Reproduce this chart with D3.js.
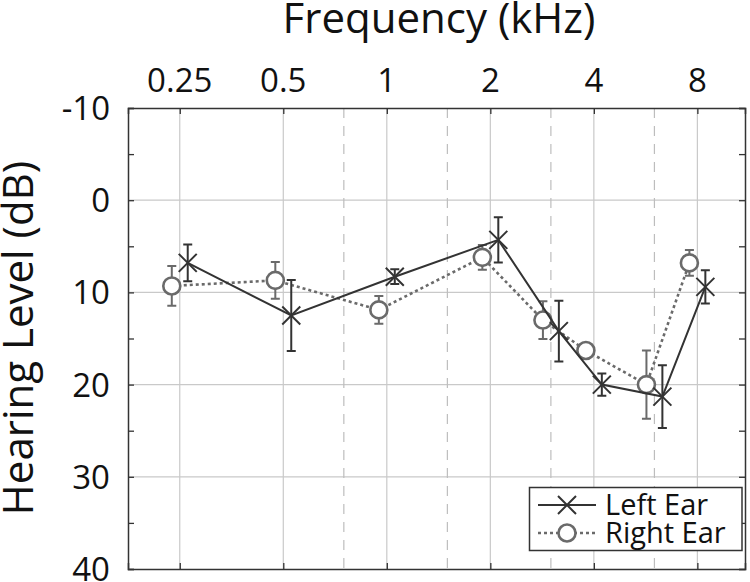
<!DOCTYPE html>
<html><head><meta charset="utf-8">
<script src="https://cdn.jsdelivr.net/npm/d3@7"></script>
<style>body{margin:0;background:#fff}svg{display:block}text{font-family:"Open Sans",sans-serif;fill:#111}</style>
</head><body>
<svg id="c" width="750" height="582"></svg>
<script>
// ---- data ----
const majorFreqs = [0.25, 0.5, 1, 2, 4, 8];
const majorLabels = ["0.25", "0.5", "1", "2", "4", "8"];
const interFreqs = [0.75, 1.5, 3, 6];
const yTicks = [-10, 0, 10, 20, 30, 40];
const yMinorTicks = [-10, -5, 0, 5, 10, 15, 20, 25, 30, 35, 40];
const yGrid = [0, 10, 20, 30];
const testFreqs = [0.25, 0.5, 1, 2, 3, 4, 6, 8];
const leftEar = [6.8, 12.5, 8.3, 4.3, 14.2, 20.0, 21.3, 9.4];
const leftErr = [2.0, 3.85, 0.8, 2.45, 3.3, 1.2, 3.4, 1.8];
const rightEar = [9.3, 8.7, 11.9, 6.2, 13.0, 16.3, 20.0, 6.8];
const rightErr = [2.15, 2.0, 1.5, 1.35, 2.05, 0.4, 3.7, 1.4];
const seriesNames = ["Left Ear", "Right Ear"];

// ---- layout ----
const L = 128, R = 745, T = 108, B = 569;
const svg = d3.select("#c");
const x = d3.scaleLog().base(2).domain([0.25 / Math.SQRT2, 8 * Math.pow(2, 0.46)]).range([L, R]);
const y = d3.scaleLinear().domain([-10, 40]).range([T, B]);
const shift = Math.pow(2, 0.077);
const cLeft = "#333", cRight = "#6a6a6a";

// grid
const g = svg.append("g");
g.selectAll(".gy").data(yGrid).join("line")
  .attr("x1", L).attr("x2", R).attr("y1", d => y(d)).attr("y2", d => y(d))
  .attr("stroke", "#c9c9c9").attr("stroke-width", 1.2);
g.selectAll(".gx").data(majorFreqs).join("line")
  .attr("x1", d => x(d)).attr("x2", d => x(d)).attr("y1", T).attr("y2", B)
  .attr("stroke", "#c9c9c9").attr("stroke-width", 1.2);
g.selectAll(".gd").data(interFreqs).join("line")
  .attr("x1", d => x(d)).attr("x2", d => x(d)).attr("y1", T).attr("y2", B)
  .attr("stroke", "#bdbdbd").attr("stroke-width", 1.2).attr("stroke-dasharray", "10,8");

// axes
const axL = d3.axisLeft(y).tickValues(yMinorTicks).tickSize(-6).tickFormat("");
const axR = d3.axisRight(y).tickValues(yMinorTicks).tickSize(-6).tickFormat("");
const axT = d3.axisTop(x).tickValues(majorFreqs).tickSize(-6).tickFormat("");
const axB = d3.axisBottom(x).tickValues(majorFreqs).tickSize(-6).tickFormat("");
[[axL, `translate(${L},0)`], [axR, `translate(${R},0)`], [axT, `translate(0,${T})`], [axB, `translate(0,${B})`]].forEach(([ax, tr]) => {
  const a = svg.append("g").attr("transform", tr).call(ax);
  a.select(".domain").attr("stroke", cLeft).attr("stroke-width", 1.5);
  a.selectAll(".tick line").attr("stroke", cLeft).attr("stroke-width", 1.3);
});

// tick labels
svg.append("g").selectAll("text").data(majorFreqs).join("text")
  .attr("x", d => x(d)).attr("y", 92).attr("text-anchor", "middle")
  .style("font-size", "33px").text((d, i) => majorLabels[i]);
svg.append("g").selectAll("text").data(yTicks).join("text")
  .attr("x", 110).attr("y", d => y(d) + 12).attr("text-anchor", "end")
  .style("font-size", "33px").text(d => d);

// titles
svg.append("text").attr("x", 439).attr("y", 33).attr("text-anchor", "middle")
  .style("font-size", "42px").text("Frequency (kHz)");
svg.append("text").attr("transform", "translate(33,338) rotate(-90)").attr("text-anchor", "middle")
  .style("font-size", "42px").text("Hearing Level (dB)");

// series drawing helpers
function xMark(sel, cx, cy, col) {
  const s = 9;
  sel.append("path").attr("d", `M${cx - s},${cy - s}L${cx + s},${cy + s}M${cx - s},${cy + s}L${cx + s},${cy - s}`)
    .attr("stroke", col).attr("stroke-width", 2).attr("fill", "none");
}
function oMark(sel, cx, cy, col) {
  sel.append("circle").attr("cx", cx).attr("cy", cy).attr("r", 8.5)
    .attr("fill", "#fff").attr("stroke", col).attr("stroke-width", 2.6);
}
function drawSeries(vals, errs, factor, col, dash, marker) {
  const gg = svg.append("g");
  const pts = testFreqs.map((f, i) => [x(f * factor), y(vals[i]), y(vals[i] - errs[i]), y(vals[i] + errs[i])]);
  gg.append("path").attr("d", d3.line()(pts.map(p => [p[0], p[1]])))
    .attr("fill", "none").attr("stroke", col).attr("stroke-width", dash ? 2.6 : 2)
    .attr("stroke-dasharray", dash || null);
  pts.forEach(p => {
    const w = 4.5;
    gg.append("path").attr("d", `M${p[0]},${p[2]}V${p[3]}M${p[0] - w},${p[2]}H${p[0] + w}M${p[0] - w},${p[3]}H${p[0] + w}`)
      .attr("stroke", col).attr("stroke-width", 2).attr("fill", "none");
  });
  pts.forEach(p => marker(gg, p[0], p[1], col));
}
drawSeries(rightEar, rightErr, 1 / shift, cRight, "3,3", oMark);
drawSeries(leftEar, leftErr, shift, cLeft, null, xMark);

// legend
const lg = svg.append("g");
lg.append("rect").attr("x", 529.5).attr("y", 487.5).attr("width", 212.5).attr("height", 63)
  .attr("fill", "#fff").attr("stroke", cLeft).attr("stroke-width", 1.5);
const legY = [505, 533];
lg.append("line").attr("x1", 538).attr("x2", 596).attr("y1", legY[0]).attr("y2", legY[0]).attr("stroke", cLeft).attr("stroke-width", 2);
xMark(lg, 567, legY[0], cLeft);
lg.append("line").attr("x1", 538).attr("x2", 596).attr("y1", legY[1]).attr("y2", legY[1]).attr("stroke", cRight).attr("stroke-width", 2.6).attr("stroke-dasharray", "3,3");
oMark(lg, 567, legY[1], cRight);
lg.selectAll("text").data(seriesNames).join("text")
  .attr("x", 605).attr("y", (d, i) => legY[i] + 10).style("font-size", "29px").text(d => d);
</script>
</body></html>
